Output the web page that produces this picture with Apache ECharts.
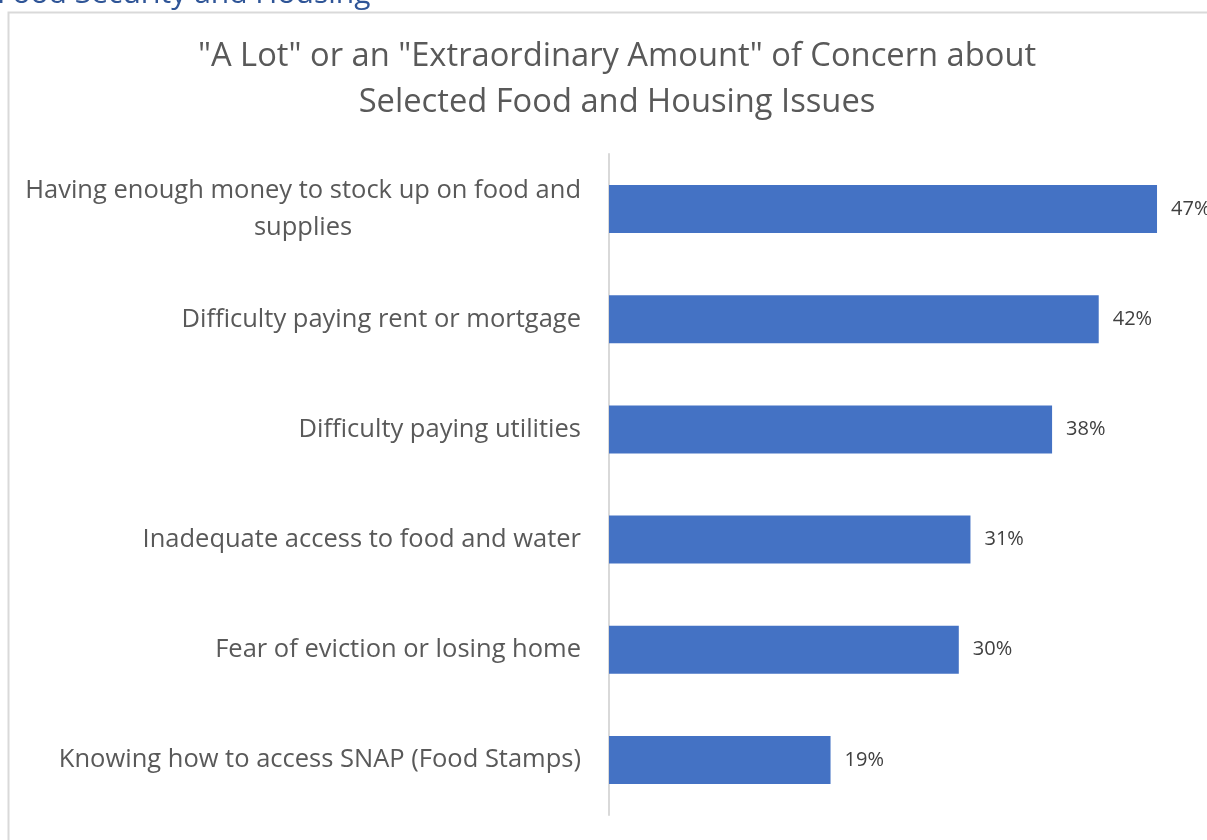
<!DOCTYPE html>
<html>
<head>
<meta charset="utf-8">
<script src="https://cdn.jsdelivr.net/npm/echarts@6/dist/echarts.min.js"></script>
<style>
html,body{margin:0;padding:0;background:#fff;}
#chart{width:1207px;height:840px;}
</style>
</head>
<body>
<div id="chart"></div>
<script>
// Share of respondents reporting "a lot" or "an extraordinary amount" of concern
const issues = [
  'Having enough money to stock up on food and\nsupplies',
  'Difficulty paying rent or mortgage',
  'Difficulty paying utilities',
  'Inadequate access to food and water',
  'Fear of eviction or losing home',
  'Knowing how to access SNAP (Food Stamps)'
];
const concernPct = [47, 42, 38, 31, 30, 19];

const FONT = '"Open Sans", Lato, sans-serif';
const LABEL_SIZE = 25.5;

// width of the widest line of a wrapped label, so its lines can be centred in one block
function textWidth(str, size) {
  const ctx = document.createElement('canvas').getContext('2d');
  ctx.font = size + 'px ' + FONT;
  return Math.max.apply(null, str.split('\n').map(s => ctx.measureText(s).width));
}

const chart = echarts.init(document.getElementById('chart'));
chart.setOption({
  animation: false,
  backgroundColor: '#fff',
  title: {
    text: '"A Lot" or an "Extraordinary Amount" of Concern about\nSelected Food and Housing Issues',
    left: 612,
    textAlign: 'center',
    top: 29,
    textStyle: { fontFamily: FONT, fontSize: 32.7, fontWeight: 'normal', color: '#595959', lineHeight: 46 }
  },
  graphic: [
    {
      type: 'rect', left: 6, top: 10,
      shape: { width: 1240, height: 880 },
      style: { fill: 'none', stroke: '#d9d9d9', lineWidth: 2 }
    },
    {
      type: 'text', left: -3, top: -21,
      style: { text: 'Food Security and Housing', fill: '#2f5597', font: '30px ' + FONT }
    }
  ],
  grid: { left: 609, right: 15, top: 154, bottom: 25, containLabel: false },
  xAxis: {
    type: 'value', min: 0, max: 50,
    show: false
  },
  yAxis: {
    type: 'category',
    data: issues,
    inverse: true,
    axisLine: { show: true, lineStyle: { color: '#d9d9d9', width: 2 } },
    axisTick: { show: false },
    axisLabel: {
      margin: 28, fontFamily: FONT, fontSize: LABEL_SIZE, color: '#595959',
      lineHeight: 37, align: 'right',
      formatter: v => {
        if (v.indexOf('\n') < 0) return v;
        return v.split('\n').map(s => '{c|' + s + '}').join('\n');
      },
      rich: {
        c: {
          width: textWidth(issues[0], LABEL_SIZE), align: 'center',
          fontFamily: FONT, fontSize: LABEL_SIZE, color: '#595959', lineHeight: 37
        }
      }
    }
  },
  series: [{
    type: 'bar',
    data: concernPct,
    barWidth: 48,
    itemStyle: { color: '#4472c4' },
    label: {
      show: true, position: 'right', distance: 14,
      formatter: p => p.value + '%',
      fontFamily: FONT, fontSize: 20, color: '#404040'
    }
  }]
});
</script>
</body>
</html>
